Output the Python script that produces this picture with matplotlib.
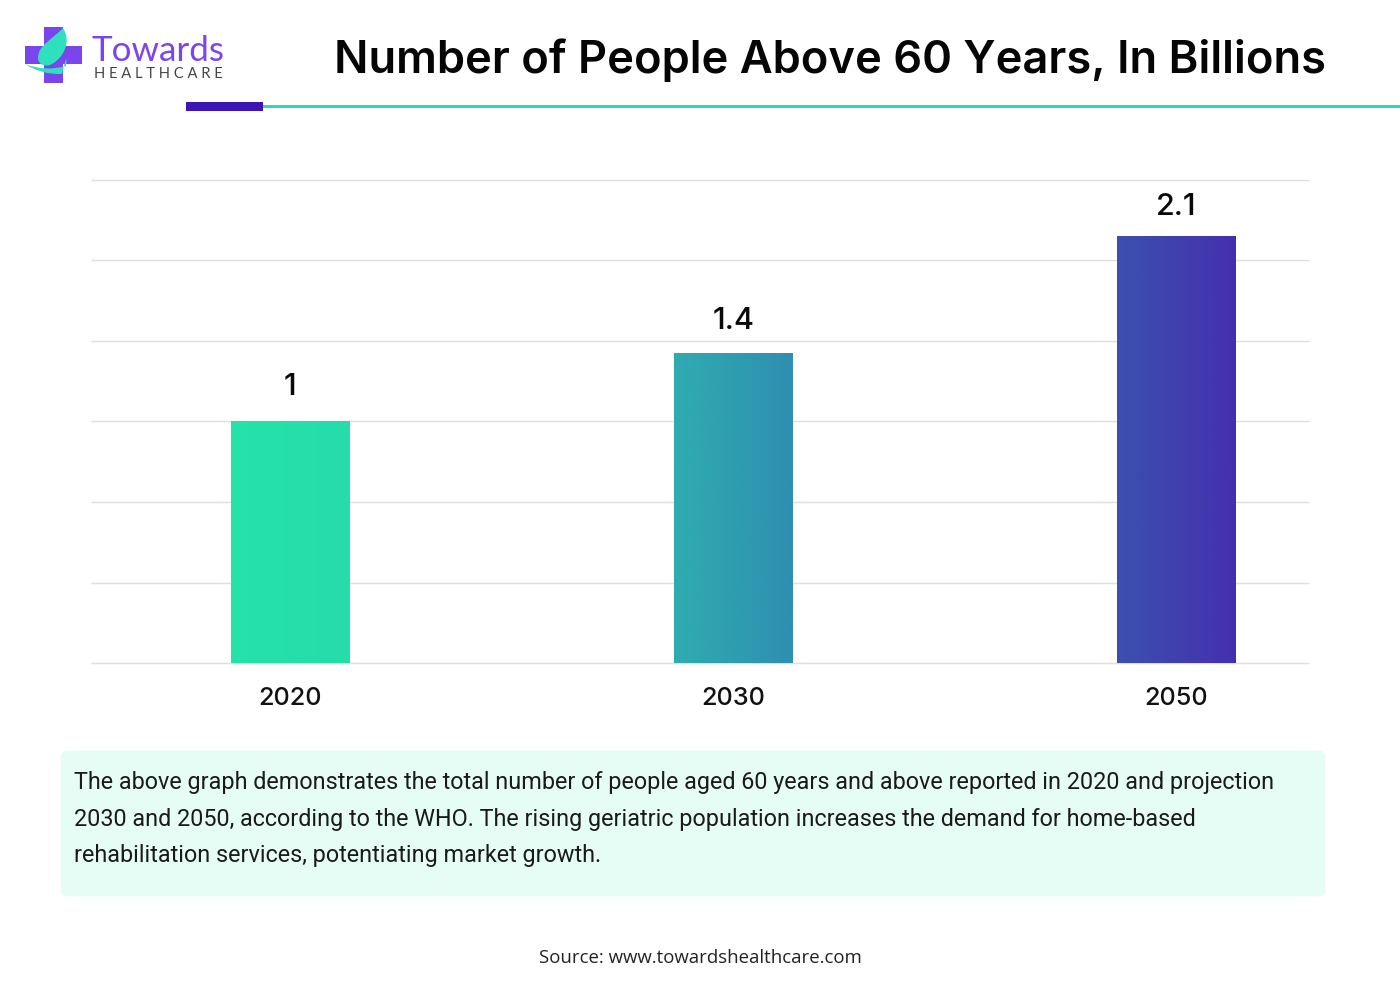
import numpy as np
import matplotlib
matplotlib.use("Agg")
import matplotlib.pyplot as plt
from matplotlib.patches import Rectangle, FancyBboxPatch, PathPatch
from matplotlib.path import Path
from matplotlib.colors import to_rgb

categories = ["2020", "2030", "2050"]
bar_labels = ["1", "1.4", "2.1"]
bar_heights = [1.0, 1.28, 1.765]   # heights as drawn in the picture
label_offsets = [19.4, 18.2, 15.6]
grad_left = ["#25E3A9", "#2FACB0", "#3C50AE"]
grad_right = ["#25DCAB", "#2F8FB0", "#4530AE"]
title = "Number of People Above 60 Years, In Billions"
body_lines = [
    "The above graph demonstrates the total number of people aged 60 years and above reported in 2020 and projection",
    "2030 and 2050, according to the WHO. The rising geriatric population increases the demand for home-based",
    "rehabilitation services, potentiating market growth.",
]
source = "Source: www.towardshealthcare.com"

W, H = 1400, 997
fig = plt.figure(figsize=(W / 100, H / 100), dpi=100, facecolor="white")

bg = fig.add_axes([0, 0, 1, 1])
bg.set_xlim(0, W)
bg.set_ylim(H, 0)
bg.axis("off")

# header
bg.add_patch(Rectangle((263, 105), W - 263, 3, fc="#2BDDB0", ec="none", lw=0, antialiased=False))
bg.add_patch(Rectangle((186, 102), 77, 9, color="#3F14B4", lw=0))
bg.text(829.5, 60.5, title, ha="center", va="center", fontsize=32.6,
        family="Inter", fontweight="semibold", color="#050505")

# logo
purple = "#7B45EE"
bg.add_patch(Rectangle((44, 27), 18.5, 56, color=purple, lw=0))
bg.add_patch(Rectangle((24.5, 46), 57, 18.5, color=purple, lw=0))
C4 = Path.CURVE4
dark = Path([(25, 64), (42, 75), (62, 74), (68, 48), (66, 66), (45, 72), (25, 64)],
            [Path.MOVETO, Path.CURVE3, Path.CURVE3, Path.CURVE3, Path.CURVE3, Path.CURVE3, Path.CURVE3])
bg.add_patch(PathPatch(dark, fc="#2FE0BE", lw=0))
leaf = Path([(63, 28), (52, 40), (38, 45), (38, 58), (38, 66), (48, 67), (52, 64), (63, 58), (72, 42), (63, 28)],
            [Path.MOVETO, C4, C4, C4, C4, C4, C4, C4, C4, C4])
bg.add_patch(PathPatch(leaf, fc="#2FE0BE", lw=0))
bg.text(91.5, 51, "Towards", ha="left", va="center", fontsize=25.2, family="Lato", color=purple)
bg.text(94, 73.5, "H E A L T H C A R E", ha="left", va="center", fontsize=10.6, family="Lato", color="#444444")

# note box
bg.add_patch(FancyBboxPatch((62, 752), 1262, 143, boxstyle="round,pad=0,rounding_size=6",
                            fc="#E6FDF6", ec="#E6FDF6", lw=2))
for y, line in zip([782, 819, 855], body_lines):
    bg.text(74, y, line, ha="left", va="center", fontsize=16.85, family="Roboto", color="#1A1A1A")
bg.text(700, 958, source, ha="center", va="center", fontsize=13.4, family="Open Sans",
        fontweight="medium", color="#222222")

# chart
ax = fig.add_axes([91 / W, 1 - 663 / H, (1309 - 91) / W, (663 - 180) / H])
ax.set_facecolor("none")
ax.set_yticks(np.arange(0, 7) / 3)
ax.yaxis.grid(True, color="#DEDEDE", lw=1.0, clip_on=False, solid_capstyle="butt")
ax.set_axisbelow(True)
for s in ax.spines.values():
    s.set_visible(False)
ax.tick_params(left=False, bottom=False, labelleft=False, pad=14)
xs = np.arange(3)
ax.set_xticks(xs)
ax.set_xticklabels(categories, fontsize=18.2, family="Inter", fontweight="medium", color="#111111")

bars = ax.bar(xs, bar_heights, width=0.268, color="none", lw=0, zorder=2)
for bar, c0, c1, lab, off in zip(bars, grad_left, grad_right, bar_labels, label_offsets):
    x0, w, h = bar.get_x(), bar.get_width(), bar.get_height()
    ramp = np.linspace(np.array(to_rgb(c0)), np.array(to_rgb(c1)), 128)[None, :, :]
    ax.imshow(ramp, extent=[x0, x0 + w, 0, h], aspect="auto", zorder=2, interpolation="bilinear")
    ax.annotate(lab, (x0 + w / 2, h), xytext=(0, off), textcoords="offset points",
                ha="center", va="baseline", fontsize=22, family="Inter",
                fontweight="medium", color="#0A0A0A")
ax.set_xlim(-0.4490, 2.2995)
ax.set_ylim(0, 2)

fig.savefig("out.png", dpi=100, facecolor="white")
